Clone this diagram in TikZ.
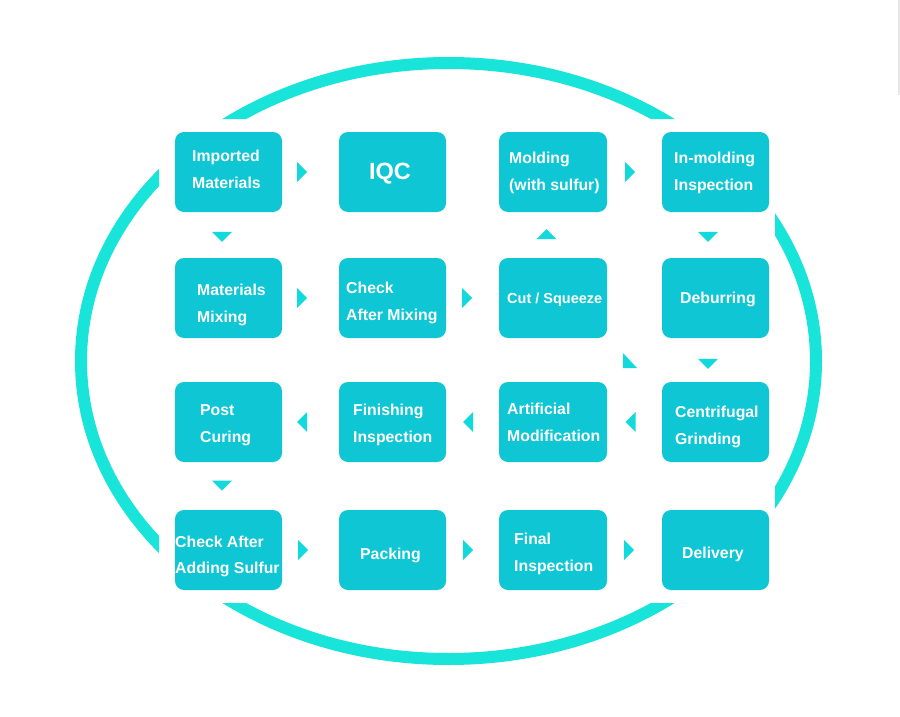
\documentclass[tikz,border=0pt]{standalone}
\usepackage{fontspec}
\setmainfont{Liberation Sans}
\usetikzlibrary{calc}
\definecolor{boxc}{HTML}{0FC6D4}
\definecolor{ringc}{HTML}{18E4DA}
\definecolor{tric}{HTML}{12D9DC}
\definecolor{edgec}{HTML}{E6E6E6}
\tikzset{
  stage/.style={fill=boxc, rounded corners=9pt, minimum width=107pt, minimum height=80pt, inner sep=0pt, draw=none},
  lbl/.style={text=white, font=\bfseries\fontsize{15.8}{27}\selectfont, align=left, anchor=west, inner sep=0pt},
  rtri/.pic={\fill[tric] (-5,-10) -- (5,0) -- (-5,10) -- cycle;},
  ltri/.pic={\fill[tric] (5,-10) -- (-5,0) -- (5,10) -- cycle;},
  dtri/.pic={\fill[tric] (-10,-5) -- (0,5) -- (10,-5) -- cycle;},
  utri/.pic={\fill[tric] (-10,5) -- (0,-5) -- (10,5) -- cycle;},
  ring/.style={draw=ringc, line width=12pt},
}
\begin{document}
\begin{tikzpicture}[x=1pt,y=-1pt]
\useasboundingbox (0,0) rectangle (900,717);
\fill[white] (0,0) rectangle (900,717);
\draw[edgec, line width=1.5pt] (898.8,0) -- (898.8,95);
% ring
\begin{scope}
\clip (0,0) rectangle (900,119) (0,603) rectangle (900,717) (0,0) rectangle (159,717) (775,0) rectangle (900,717);
\draw[ring] (448.5,361) ellipse [x radius=367.5, y radius=298];
\end{scope}
% boxes
\node[stage] (imp) at (228.5,172) {};
\node[stage] (iqc) at (392.5,172) {};
\node[stage, minimum width=108pt] (mol) at (553,172) {};
\node[stage] (inm) at (715.5,172) {};
\node[stage] (mix) at (228.5,298) {};
\node[stage] (chk) at (392.5,298) {};
\node[stage, minimum width=108pt] (cut) at (553,298) {};
\node[stage] (deb) at (715.5,298) {};
\node[stage] (post) at (228.5,422) {};
\node[stage] (fin) at (392.5,422) {};
\node[stage, minimum width=108pt] (art) at (553,422) {};
\node[stage] (cen) at (715.5,422) {};
\node[stage] (sul) at (228.5,550) {};
\node[stage] (pack) at (392.5,550) {};
\node[stage, minimum width=108pt] (final) at (553,550) {};
\node[stage] (del) at (715.5,550) {};
% labels
\node[lbl] (timp) at (192,169.5) {\strut Imported\\\strut Materials};
\node[lbl, anchor=center, font=\bfseries\fontsize{23.5}{28}\selectfont] (tiqc) at (390,173.5) {IQC};
\node[lbl] (tmol) at (509,171.5) {\strut Molding\\\strut (with sulfur)};
\node[lbl] (tinm) at (674,171.5) {\strut In-molding\\\strut Inspection};
\node[lbl] (tmix) at (197,304) {\strut Materials\\\strut Mixing};
\node[lbl] (tchk) at (346,301.5) {\strut Check\\\strut After Mixing};
\node[lbl, font=\bfseries\fontsize{14.5}{27}\selectfont] (tcut) at (507,298) {\strut Cut / Squeeze};
\node[lbl] (tdeb) at (680,298) {\strut Deburring};
\node[lbl] (tpost) at (200,423.5) {\strut Post\\\strut Curing};
\node[lbl] (tfin) at (353,424) {\strut Finishing\\\strut Inspection};
\node[lbl] (tart) at (507,423) {\strut Artificial\\\strut Modification};
\node[lbl] (tcen) at (675,426) {\strut Centrifugal\\\strut Grinding};
\node[lbl] (tsul) at (175,555) {\strut Check After\\[-1pt]\strut Adding Sulfur};
\node[lbl] (tpack) at (360,554) {\strut Packing};
\node[lbl] (tfinal) at (514,552.5) {\strut Final\\\strut Inspection};
\node[lbl] (tdel) at (682,553) {\strut Delivery};
% flow arrowheads
\path (imp.east) -- (iqc.west) coordinate[pos=0.351] (a1);
\pic at (a1) {rtri};
\path (mol.east) -- (inm.west) coordinate[pos=0.418] (a2);
\pic at (a2) {rtri};
\path (mix.east) -- (chk.west) coordinate[pos=0.351] (a3);
\pic at (a3) {rtri};
\path (chk.east) -- (cut.west) coordinate[pos=0.396] (a4);
\pic at (a4) {rtri};
\path (cen.west) -- (art.east) coordinate[pos=0.573] (a5);
\pic at (a5) {ltri};
\path (art.west) -- (fin.east) coordinate[pos=0.585] (a6);
\pic at (a6) {ltri};
\path (fin.west) -- (post.east) coordinate[pos=0.649] (a7);
\pic at (a7) {ltri};
\path (sul.east) -- (pack.west) coordinate[pos=0.37] (a8);
\pic at (a8) {rtri};
\path (pack.east) -- (final.west) coordinate[pos=0.415] (a9);
\pic at (a9) {rtri};
\path (final.east) -- (del.west) coordinate[pos=0.4] (a10);
\pic at (a10) {rtri};
\path ([xshift=-6.5pt]imp.south) -- ([xshift=-6.5pt]mix.north) coordinate[pos=0.543] (v1);
\pic at (v1) {dtri};
\path ([xshift=-6.5pt]cut.north) -- ([xshift=-6.5pt]mol.south) coordinate[pos=0.52] (v2);
\pic at (v2) {utri};
\path ([xshift=-7.5pt]inm.south) -- ([xshift=-7.5pt]deb.north) coordinate[pos=0.543] (v3);
\pic at (v3) {dtri};
\path ([xshift=-7.5pt]deb.south) -- ([xshift=-7.5pt]cen.north) coordinate[pos=0.59] (v4);
\pic at (v4) {dtri};
\path ([xshift=-6.5pt]post.south) -- ([xshift=-6.5pt]sul.north) coordinate[pos=0.49] (v5);
\pic at (v5) {dtri};
% diagonal mark between Cut / Squeeze and Centrifugal Grinding
\path (cut.south east) -- (cen.north west) coordinate[pos=0.38] (dg);
\fill[tric] ($(dg)+(-4.9,-1.7)$) -- ($(dg)+(-4.9,13.3)$) -- ($(dg)+(9.1,13.3)$) -- cycle;
\end{tikzpicture}
\end{document}
